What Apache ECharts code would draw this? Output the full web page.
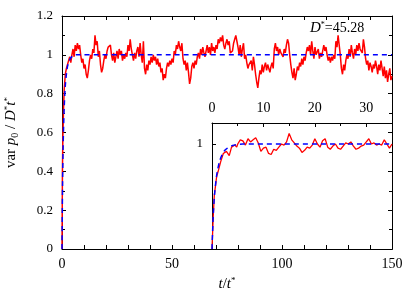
<!DOCTYPE html>
<html><head><meta charset="utf-8">
<script src="https://cdn.jsdelivr.net/npm/echarts@6/dist/echarts.min.js"></script>
<style>html,body{margin:0;padding:0;background:#fff}#c{width:415px;height:291px}</style>
</head><body><div id="c"></div>
<script>
// ---- data ----
const mainEarlyT = [0, 0.2, 0.4, 0.7, 1.0, 1.5, 2.0];
const mainEarlyV = [0, 0.40, 0.58, 0.72, 0.82, 0.90, 0.93];
const mainStart = 2.5, mainStep = 0.5;
const mainV = [
0.94,0.97,0.99,0.96,1.0,1.03,0.99,1.05,1.02,1.06,
1.03,1.05,1.0,0.96,0.98,0.93,0.95,0.9,0.88,0.92,
0.97,1.0,0.98,1.03,1.01,1.1,1.05,1.07,0.99,1.02,
0.95,0.91,0.93,0.97,1.0,0.98,1.02,1.04,1.03,1.05,
1.0,0.97,1.01,0.96,0.99,1.02,0.98,1.03,1.0,1.02,
0.97,1.0,0.98,1.01,0.99,1.05,1.02,1.08,1.03,1.0,
0.97,1.01,0.98,1.02,1.04,0.99,1.06,1.0,0.96,1.07,
0.93,0.9,0.95,0.92,0.97,0.95,0.99,0.96,1.0,0.97,
0.99,0.95,0.98,0.94,0.96,0.91,0.93,0.87,0.9,0.88,
0.93,0.96,0.94,0.97,0.95,0.98,0.96,1.02,1.0,1.05,
1.03,1.07,1.04,1.02,1.06,0.98,0.95,0.97,0.92,0.96,
0.91,0.85,0.88,0.94,0.96,0.93,0.97,0.95,0.99,1.01,
0.98,1.03,1.0,1.04,1.01,0.99,1.02,1.05,1.01,1.04,
1.0,1.06,1.02,1.04,1.01,1.05,1.03,1.08,1.06,1.09,
1.07,1.1,1.05,1.03,1.06,1.08,1.05,1.07,1.01,1.0,
1.02,1.06,1.08,1.1,1.07,1.04,1.0,1.05,0.99,1.03,
1.06,0.98,1.0,0.96,0.93,0.95,0.94,0.97,0.92,0.99,
0.95,0.9,0.86,0.83,0.88,0.92,0.9,0.95,0.91,0.94,
0.96,0.92,0.95,0.93,0.91,0.94,0.96,0.93,1.03,1.06,
1.02,1.04,1.0,1.03,1.01,1.02,0.99,1.03,1.01,1.05,
1.08,1.06,1.0,0.95,0.91,0.88,0.93,0.87,0.9,0.94,
0.92,0.96,0.94,0.98,0.95,0.99,0.97,1.01,1.04,1.02,
1.05,1.0,1.07,1.02,0.98,1.04,1.0,0.99,1.03,0.98,
1.01,0.99,1.02,1.05,1.02,1.04,1.0,0.97,0.99,0.96,
0.99,0.97,1.0,0.98,1.07,1.04,1.1,1.05,1.0,0.93,
0.9,0.95,0.92,0.97,1.0,0.98,1.03,0.99,1.05,1.01,
0.98,1.03,1.0,1.05,1.02,1.06,1.03,1.04,1.01,1.08,
1.04,0.98,0.95,0.97,0.92,0.96,0.94,0.91,0.95,0.93,
0.97,0.94,0.9,0.95,0.92,0.97,0.93,0.89,0.94,0.88,
0.92,0.86,0.9,0.93,0.87,0.89
];
const theoryT = [0, 0.25, 0.5, 0.75, 1, 1.5, 2, 2.5, 3, 4, 5, 6, 150];
const theoryV = [0, 0.33, 0.52, 0.64, 0.73, 0.84, 0.9, 0.94, 0.96, 0.985, 0.995, 1, 1];

const insetEarlyT = [0, 0.25, 0.45, 0.9, 1.2, 1.68, 2.2, 2.8, 3.35, 3.8, 4.1, 4.45, 4.8];
const insetEarlyV = [0, 0.32, 0.51, 0.69, 0.74, 0.83, 0.91, 0.93, 0.89, 0.97, 0.96, 0.99, 0.97];
const insetStart = 5, insetStep = 0.5;
const insetV = [
1.0,1.04,1.03,0.99,1.05,1.02,1.04,1.06,1.01,0.93,
0.96,0.97,0.91,0.9,0.95,0.94,0.97,1.0,0.99,1.02,
1.1,1.04,1.01,0.98,0.96,0.92,0.94,0.97,0.96,0.99,
1.05,1.0,0.97,1.03,1.05,0.97,0.95,0.98,1.0,0.96,
0.95,0.98,1.01,1.0,1.02,0.98,0.95,0.96,0.98,0.99,
1.02,1.05,1.0,1.01,0.99,1.0,0.99,1.04,1.0,0.96,
1.0
];
const mainYTicks = [0, 0.2, 0.4, 0.6, 0.8, 1, 1.2];
const mainXTicks = [0, 50, 100, 150];
const insetXTicks = [0, 10, 20, 30];
const annotation = 'D*=45.28';

// ---- build ----
const pairs = (ts, vs) => ts.map((t, i) => [t, vs[i]]);
const mainRed = pairs(mainEarlyT, mainEarlyV).concat(mainV.map((v, i) => [mainStart + i * mainStep, v]));
const insetRed = pairs(insetEarlyT, insetEarlyV).concat(insetV.map((v, i) => [insetStart + i * insetStep, v]));
const theoryMain = pairs(theoryT, theoryV);
const theoryInset = pairs(theoryT.slice(0, -1).concat([35]), theoryV);

const FF = '"Liberation Serif","DejaVu Serif",serif';
const black = '#000';
const fmtY = v => String(+v.toFixed(1));
function axisBase(extra) {
  return Object.assign({
    type: 'value',
    axisLine: { show: true, onZero: false, lineStyle: { color: black, width: 1 } },
    axisTick: { show: true, inside: true, length: 4, lineStyle: { color: black } },
    minorTick: { show: true, splitNumber: 2, length: 3, lineStyle: { color: black } },
    splitLine: { show: false },
    axisLabel: { show: false, color: black, fontFamily: FF, fontSize: 13 }
  }, extra);
}

const chart = echarts.init(document.getElementById('c'), null, { renderer: 'canvas' });
chart.setOption({
  animation: false,
  backgroundColor: '#fff',
  grid: [
    { left: 62, top: 16, width: 330, height: 233, containLabel: false, outerBoundsMode: 'none' },
    { left: 212, top: 123, width: 180, height: 126, containLabel: false, outerBoundsMode: 'none' }
  ],
  xAxis: [
    axisBase({ gridIndex: 0, position: 'bottom', min: 0, max: 150, interval: 50,
      minorTick: { show: true, splitNumber: 5, length: 4, lineStyle: { color: black } },
      axisLabel: { show: true, color: black, fontFamily: FF, fontSize: 14, margin: 8,
        formatter: v => mainXTicks.includes(v) ? String(v) : '' },
      name: '{i|t}{n|/}{i|t}{sup|*}', nameLocation: 'middle', nameGap: 26,
      nameTextStyle: { fontFamily: FF, fontSize: 15, color: black, rich: {
        i: { fontFamily: FF, fontSize: 15, fontStyle: 'italic', color: black },
        n: { fontFamily: FF, fontSize: 15, color: black },
        sup: { fontFamily: FF, fontSize: 9, color: black, padding: [0, 0, 7, 0] } } } }),
    axisBase({ gridIndex: 0, position: 'top', min: 0, max: 150, interval: 50,
      minorTick: { show: true, splitNumber: 5, length: 4, lineStyle: { color: black } } }),
    axisBase({ gridIndex: 1, position: 'top', min: 0, max: 35, interval: 10,
      minorTick: { show: true, splitNumber: 2, length: 3, lineStyle: { color: black } },
      axisLabel: { show: true, color: black, fontFamily: FF, fontSize: 14, margin: 8,
        formatter: v => insetXTicks.includes(v) ? String(v) : '' } }),
    axisBase({ gridIndex: 1, position: 'bottom', min: 0, max: 35, interval: 10,
      axisTick: { show: false }, minorTick: { show: false } })
  ],
  yAxis: [
    axisBase({ gridIndex: 0, position: 'left', min: 0, max: 1.2, interval: 0.2,
      axisLabel: { show: true, color: black, fontFamily: FF, fontSize: 13, margin: 9,
        formatter: v => mainYTicks.some(t => Math.abs(t - v) < 1e-9) ? fmtY(v) : '' },
      name: '{n|var }{i|p}{sub|0}{n| / }{i|D}{sup|*}{i|t}{sup|*}',
      nameLocation: 'middle', nameRotate: 90, nameGap: 42,
      nameTextStyle: { fontFamily: FF, fontSize: 15, color: black, rich: {
        i: { fontFamily: FF, fontSize: 15, fontStyle: 'italic', color: black },
        n: { fontFamily: FF, fontSize: 15, color: black },
        sub: { fontFamily: FF, fontSize: 10, color: black, padding: [7, 0, 0, 0] },
        sup: { fontFamily: FF, fontSize: 9, color: black, padding: [0, 0, 7, 0] } } } }),
    axisBase({ gridIndex: 0, position: 'right', min: 0, max: 1.2, interval: 0.2 }),
    axisBase({ gridIndex: 1, position: 'left', min: 0, max: 1.2, interval: 1,
      minorTick: { show: false },
      axisLabel: { show: true, color: black, fontFamily: FF, fontSize: 13, margin: 9,
        formatter: v => v === 1 ? '1' : '' } }),
    axisBase({ gridIndex: 1, position: 'right', min: 0, max: 1.2, interval: 0.2,
      axisTick: { show: false }, minorTick: { show: false } })
  ],
  graphic: [{
    type: 'text', left: 310, top: 21,
    style: {
      text: '{i|D}{sup|*}{n|=45.28}',
      fontFamily: FF, fontSize: 14, fill: black,
      rich: {
        i: { fontFamily: FF, fontSize: 15, fontStyle: 'italic', fill: black },
        n: { fontFamily: FF, fontSize: 14, fill: black },
        sup: { fontFamily: FF, fontSize: 8, fill: black, padding: [0, 0, 7, 0] }
      }
    }
  }],
  series: [
    { type: 'line', xAxisIndex: 0, yAxisIndex: 0, data: mainRed, showSymbol: false, symbol: 'none',
      lineStyle: { color: '#ff0000', width: 1.5 }, z: 2 },
    { type: 'line', xAxisIndex: 0, yAxisIndex: 0, data: theoryMain, showSymbol: false, symbol: 'none', smooth: 0.3,
      lineStyle: { color: '#0000ff', width: 1.5, type: [5, 4] }, z: 3 },
    { type: 'line', xAxisIndex: 2, yAxisIndex: 2, data: insetRed, showSymbol: false, symbol: 'none',
      lineStyle: { color: '#ff0000', width: 1.3 }, z: 2 },
    { type: 'line', xAxisIndex: 2, yAxisIndex: 2, data: theoryInset, showSymbol: false, symbol: 'none', smooth: 0.3,
      lineStyle: { color: '#0000ff', width: 1.5, type: [5, 4] }, z: 3 }
  ]
});
</script></body></html>
